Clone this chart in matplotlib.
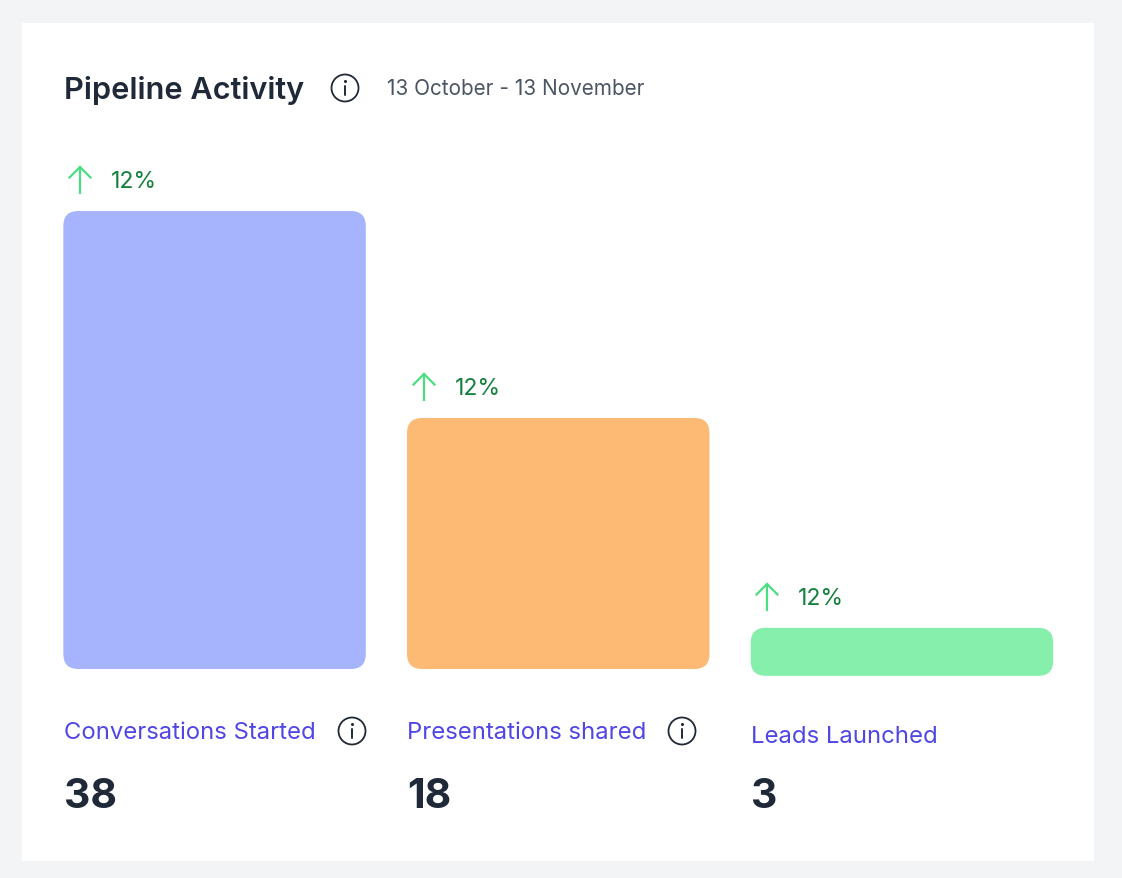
import matplotlib
matplotlib.use("Agg")
import matplotlib.pyplot as plt
from matplotlib.patches import Circle, FancyBboxPatch, Rectangle

W, H = 1122, 878

title = "Pipeline Activity"
date_range = "13 October - 13 November"
categories = ["Conversations Started", "Presentations shared", "Leads Launched"]
totals = ["38", "18", "3"]
changes = ["12%", "12%", "12%"]
# bar lengths as a share of the tallest bar, the picture does not scale them by the totals
bar_heights = [100, 54.8, 10.5]
bar_bases = [0, 0, -1.5]
bar_colors = ["#A5B4FC", "#FDBA74", "#86EFAC"]

INK = "#1F2937"
plt.rcParams["font.family"] = ["Inter", "DejaVu Sans"]

fig = plt.figure(figsize=((W + 0.01) / 100, (H + 0.01) / 100), dpi=100, facecolor="#F3F4F6")

# overlay in pixel coordinates for the card, texts and icons
page = fig.add_axes([0, 0, 1, 1])
page.set_xlim(0, W)
page.set_ylim(H, 0)
page.axis("off")
page.add_patch(Rectangle((22, 23), 1072, 838, fc="white", ec="none"))


def info_icon(x, y):
    page.add_patch(Circle((x, y), 13.5, fc="none", ec=INK, lw=1.3))
    page.plot([x, x], [y - 2, y + 7], color=INK, lw=1.4, solid_capstyle="round")
    page.plot([x], [y - 6.5], "o", color=INK, ms=2.2, mew=0)


def up_arrow(x, y):
    page.plot([x, x], [y, y + 26], color="#4ADE80", lw=1.6)
    page.plot([x - 10.5, x, x + 10.5], [y + 10.5, y, y + 10.5], color="#4ADE80", lw=1.6)


# bars
left, right, top, bottom = 63, 1053.5, 211, 669
ax = fig.add_axes([left / W, 1 - bottom / H, (right - left) / W, (bottom - top) / H])
ax.patch.set_alpha(0)
ax.axis("off")
ax.set_xlim(-0.441, 2.441)
ax.set_ylim(0, 100)
x_px = (right - left) / (ax.get_xlim()[1] - ax.get_xlim()[0])
y_px = (bottom - top) / 100
width = 0.88
for i, h in enumerate(bar_heights):
    ax.add_patch(FancyBboxPatch((i - width / 2, bar_bases[i]), width, h,
                                boxstyle="round,pad=0,rounding_size=%f" % (15 / x_px),
                                mutation_aspect=x_px / y_px,
                                fc=bar_colors[i], ec="none", clip_on=False))

# header
page.text(63.5, 90, title, fontsize=22.1, fontweight="semibold", color=INK, va="center")
info_icon(345, 88)
page.text(387, 89, date_range, fontsize=14.95, color="#4B5563", va="center")

# change labels above the bars
arrow_x = [80, 424, 767]
arrow_y = [167, 374, 584]
for i in range(3):
    up_arrow(arrow_x[i], arrow_y[i])
    page.text(arrow_x[i] + 31, arrow_y[i] + 15, changes[i], fontsize=16.6, color="#15803D", va="center")

# category labels and totals
label_x = [64, 407, 751]
label_y = [733, 733, 736.5]
for i in range(3):
    page.text(label_x[i], label_y[i], categories[i], fontsize=17.2, color="#4F46E5", va="center")
    page.text(label_x[i], 797, totals[i], fontsize=29.5, fontweight="bold", color=INK, va="center")
info_icon(352, 731)
info_icon(682, 731)

fig.savefig("out.png", dpi=100, facecolor=fig.get_facecolor())
